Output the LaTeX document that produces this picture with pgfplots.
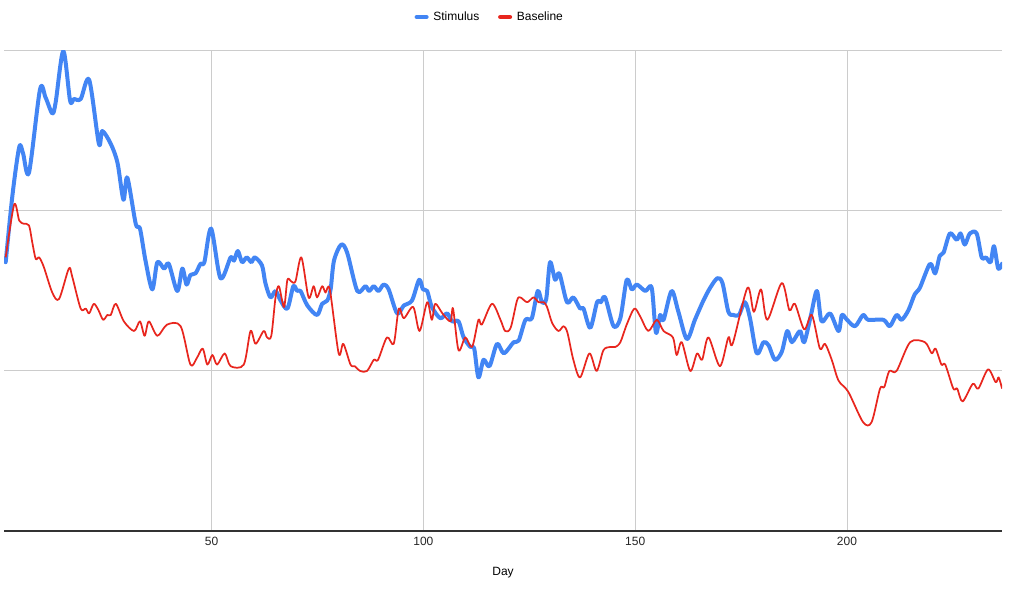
\documentclass[border=0pt]{standalone}
\usepackage{fontspec}
\setmainfont{Liberation Sans}
\usepackage{pgfplots}
\pgfplotsset{compat=1.18}
\definecolor{stimblue}{HTML}{4285F4}
\definecolor{basered}{HTML}{E8261E}
\definecolor{gridgray}{HTML}{CCCCCC}
\begin{document}
\begin{tikzpicture}
\path[use as bounding box] (-3pt,-45.75pt) rectangle (765pt,398.25pt);
\begin{axis}[
  scale only axis,
  width=748.5pt, height=360pt,
  at={(0,0)}, anchor=south west,
  xmin=1, xmax=236.6, ymin=0, ymax=3,
  xtick={50,100,150,200},
  ytick={1,2,3}, yticklabels={},
  major tick length=0pt,
  xmajorgrids, ymajorgrids,
  grid style={gridgray, line width=0.75pt},
  axis line style={draw=none},
  /pgf/number format/assume math mode=true,
  tick label style={font=\fontsize{9}{11}\selectfont, text=black!85},
  xticklabel style={anchor=center, yshift=-8pt},
  xlabel={Day},
  xlabel style={at={(axis description cs:0.5,0)}, anchor=center, yshift=-31.5pt, font=\fontsize{9}{11}\selectfont},
  legend columns=2,
  legend style={at={(0.487,1.0708)}, anchor=center, draw=none, fill=none,
    font=\fontsize{9}{11}\selectfont,
    /tikz/every odd column/.append style={column sep=1.5pt},
    /tikz/every even column/.append style={column sep=12pt}},
  legend image code/.code={\draw[#1, line width=3.6pt, line cap=round] (1pt,0pt) -- (8pt,0pt);},
]
\draw[black!80, line width=0.9pt] (rel axis cs:0,0) -- (rel axis cs:1,0);
\addplot[stimblue, line width=3pt, smooth, line join=round, line cap=round] coordinates {
(1.4,1.68)(3,2.1)(4.6,2.40)(5.5,2.36)(6.9,2.24)(9.5,2.76)(10.8,2.71)(12.4,2.61)(13.2,2.68)(15.0,3.0)(16.6,2.69)(17.5,2.70)(19.1,2.70)(21.1,2.82)(23.4,2.42)(24.2,2.50)(26.2,2.42)(27.8,2.30)(29.2,2.07)(30.1,2.21)(32.1,1.92)(33.1,1.89)(34.4,1.69)(36.0,1.51)(37.2,1.68)(38.8,1.64)(39.9,1.67)(41.9,1.50)(43.1,1.64)(44.1,1.54)(45.0,1.60)(46.2,1.61)(47.4,1.67)(48.3,1.68)(49.9,1.89)(52.1,1.58)(54.5,1.71)(55.3,1.69)(56.2,1.75)(57.2,1.68)(58.3,1.71)(59.4,1.68)(60.2,1.71)(61.9,1.66)(62.7,1.55)(63.9,1.46)(65.1,1.50)(66.3,1.44)(67.9,1.39)(69.3,1.53)(70.2,1.50)(71.0,1.50)(72.6,1.41)(74.9,1.35)(76.1,1.42)(77.3,1.44)(78.1,1.51)(78.9,1.69)(80.6,1.79)(82.0,1.74)(84.4,1.50)(86.3,1.53)(87.2,1.50)(88.3,1.53)(89.4,1.50)(90.6,1.54)(91.8,1.51)(93.8,1.36)(95.4,1.41)(97.3,1.44)(99.0,1.57)(99.9,1.51)(100.9,1.50)(102.0,1.40)(104.0,1.33)(105.6,1.36)(106.8,1.31)(108.3,1.31)(109.5,1.21)(111.1,1.15)(112.0,1.14)(113.0,0.96)(114.2,1.07)(115.6,1.03)(117.4,1.17)(119.0,1.11)(121.3,1.18)(122.5,1.19)(124.1,1.32)(125.6,1.33)(127.0,1.50)(128.0,1.43)(129.0,1.45)(129.9,1.68)(131.1,1.57)(132.1,1.61)(133.9,1.43)(135.4,1.46)(137.0,1.39)(137.8,1.39)(139.4,1.27)(141.0,1.43)(141.9,1.43)(142.9,1.46)(144.9,1.28)(146.5,1.33)(148.0,1.57)(149.2,1.51)(150.4,1.54)(152.4,1.50)(153.9,1.52)(154.9,1.24)(155.9,1.35)(156.7,1.32)(158.6,1.50)(160.2,1.37)(162.2,1.20)(164.1,1.32)(166.1,1.44)(167.7,1.52)(169.4,1.58)(170.6,1.55)(172.0,1.37)(173.2,1.35)(174.5,1.35)(175.9,1.43)(177.1,1.33)(178.7,1.11)(180.3,1.18)(181.5,1.16)(183.0,1.07)(184.6,1.12)(185.9,1.25)(187.0,1.18)(188.9,1.25)(189.9,1.18)(191.5,1.35)(192.9,1.50)(194.0,1.31)(196.0,1.36)(198.0,1.25)(198.8,1.35)(200.0,1.32)(201.9,1.28)(203.8,1.35)(205.0,1.32)(208.6,1.32)(210.1,1.28)(211.7,1.35)(212.9,1.32)(214.5,1.38)(216.0,1.48)(217.2,1.52)(219.6,1.67)(220.8,1.61)(221.9,1.72)(222.8,1.74)(224.3,1.86)(225.9,1.82)(226.8,1.86)(227.8,1.79)(229.0,1.86)(230.6,1.86)(231.8,1.71)(232.8,1.71)(233.9,1.68)(234.7,1.78)(235.7,1.64)(236.6,1.67)
};
\addlegendentry{Stimulus}
\addplot[basered, line width=1.3pt, smooth, line join=round] coordinates {
(1.4,1.71)(3.4,2.04)(4.6,1.94)(5.7,1.92)(6.9,1.91)(7.7,1.80)(8.5,1.70)(9.3,1.71)(10.4,1.65)(12.4,1.49)(14.0,1.45)(16.3,1.64)(17.1,1.59)(19.1,1.39)(20.3,1.39)(21.1,1.36)(22.2,1.42)(23.3,1.38)(24.4,1.32)(25.4,1.35)(26.2,1.35)(27.4,1.42)(29.3,1.31)(31.7,1.25)(33.1,1.31)(34.2,1.22)(35.2,1.31)(37.2,1.22)(39.5,1.29)(42.7,1.28)(45.0,1.04)(46.5,1.08)(47.9,1.14)(49.0,1.04)(50.2,1.10)(51.3,1.04)(53.1,1.11)(54.5,1.03)(57.6,1.04)(59.2,1.25)(60.4,1.17)(62.3,1.25)(63.1,1.21)(64.1,1.22)(65.1,1.46)(65.9,1.53)(67.1,1.40)(67.9,1.57)(68.8,1.56)(69.8,1.56)(71.2,1.71)(72.9,1.46)(74.1,1.53)(74.9,1.46)(76.1,1.53)(76.9,1.49)(77.9,1.51)(80.0,1.11)(81.1,1.17)(82.8,1.04)(83.8,1.03)(85.1,1.00)(86.7,1.00)(88.3,1.07)(89.3,1.07)(91.4,1.21)(93.0,1.17)(94.2,1.39)(95.4,1.33)(97.6,1.40)(99.1,1.25)(100.9,1.43)(102.0,1.32)(102.8,1.42)(104.5,1.36)(106.4,1.31)(107.0,1.39)(108.3,1.13)(109.9,1.21)(111.5,1.15)(113.0,1.32)(113.8,1.29)(116.2,1.42)(118.2,1.32)(119.3,1.25)(120.6,1.27)(122.1,1.44)(122.9,1.46)(124.5,1.43)(126.0,1.46)(127.2,1.43)(128.4,1.43)(129.2,1.40)(130.4,1.30)(131.9,1.25)(133.1,1.28)(134.0,1.24)(135.4,1.07)(137.0,0.96)(139.2,1.11)(140.9,1.00)(142.5,1.13)(144.1,1.15)(145.3,1.15)(146.5,1.18)(148.0,1.29)(149.8,1.39)(151.2,1.34)(153.1,1.25)(155.1,1.32)(156.7,1.25)(158.9,1.21)(159.8,1.10)(161.0,1.18)(163.0,1.00)(164.6,1.11)(165.8,1.07)(167.3,1.21)(170.0,1.03)(172.0,1.21)(173.0,1.17)(176.5,1.52)(178.0,1.37)(179.7,1.51)(181.2,1.32)(184.6,1.55)(186.4,1.38)(187.7,1.42)(189.9,1.26)(191.7,1.35)(193.6,1.14)(194.8,1.17)(196.4,1.07)(198.0,0.94)(200.3,0.87)(203.8,0.68)(205.8,0.68)(207.8,0.89)(208.8,0.90)(210.0,1.00)(211.7,1.00)(214.9,1.18)(218.4,1.18)(220.0,1.11)(220.9,1.14)(222.3,1.04)(223.2,1.04)(225.1,0.89)(226.0,0.89)(227.3,0.81)(229.7,0.92)(231.0,0.89)(233.3,1.01)(235.1,0.93)(235.8,0.96)(236.6,0.89)
};
\addlegendentry{Baseline}
\end{axis}
\end{tikzpicture}
\end{document}
